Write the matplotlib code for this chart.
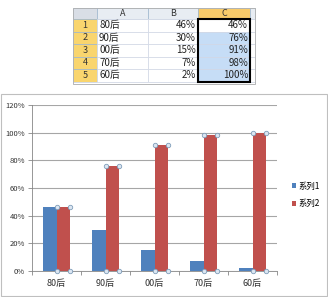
import matplotlib.pyplot as plt
import matplotlib.patches as patches
import numpy as np

plt.rcParams['font.family'] = ['Noto Sans CJK SC', 'DejaVu Sans']

categories = ['80后', '90后', '00后', '70后', '60后']
series1 = [0.46, 0.30, 0.15, 0.07, 0.02]
series2 = [0.46, 0.76, 0.91, 0.98, 1.00]
b_labels = ['46%', '30%', '15%', '7%', '2%']
c_labels = ['46%', '76%', '91%', '98%', '100%']
col_names = ['A', 'B', 'C']
names = ['系列1', '系列2']

blue = '#4F81BD'
red = '#C0504D'

fig = plt.figure(figsize=(3.28, 2.97), dpi=100)

# ---- spreadsheet snippet (pixel coordinates) ----
bg = fig.add_axes([0, 0, 1, 1])
bg.set_xlim(0, 328)
bg.set_ylim(297, 0)
bg.axis('off')

xe = [73, 97, 148, 198, 250, 255]
ye = [8, 19, 31.5, 44, 56.5, 69, 81.5, 84]

# headers
bg.add_patch(patches.Rectangle((xe[0], ye[0]), xe[1] - xe[0], ye[1] - ye[0], fc='#D9DEE6', ec='#9EB6CE', lw=0.5))
for j, name in enumerate(col_names):
    fc = '#F8CB6A' if name == 'C' else '#E8EDF3'
    bg.add_patch(patches.Rectangle((xe[j + 1], ye[0]), xe[j + 2] - xe[j + 1], ye[1] - ye[0], fc=fc, ec='#9EB6CE', lw=0.5))
    bg.text((xe[j + 1] + xe[j + 2]) / 2, (ye[0] + ye[1]) / 2 + 0.5, name, ha='center', va='center', fontsize=6.5, color='#333333')
bg.add_patch(patches.Rectangle((xe[4], ye[0]), xe[5] - xe[4], ye[1] - ye[0], fc='#E8EDF3', ec='#9EB6CE', lw=0.5))

for i in range(5):
    y0, y1 = ye[i + 1], ye[i + 2]
    yc = (y0 + y1) / 2
    bg.add_patch(patches.Rectangle((xe[0], y0), xe[1] - xe[0], y1 - y0, fc='#F9D56E', ec='#9EB6CE', lw=0.5))
    bg.text((xe[0] + xe[1]) / 2, yc, str(i + 1), ha='center', va='center', fontsize=6.5, color='#333333')
    for j in range(3):
        fc = '#C6DDF6' if (j == 2 and i > 0) else 'white'
        bg.add_patch(patches.Rectangle((xe[j + 1], y0), xe[j + 2] - xe[j + 1], y1 - y0, fc=fc, ec='#D0D7E5', lw=0.5))
    bg.add_patch(patches.Rectangle((xe[4], y0), xe[5] - xe[4], y1 - y0, fc='white', ec='#D0D7E5', lw=0.5))
    bg.text(xe[1] + 2, yc, categories[i], ha='left', va='center', fontsize=7, color='#222222')
    bg.text(xe[3] - 2, yc, b_labels[i], ha='right', va='center', fontsize=7, color='#222222')
    bg.text(xe[4] - 2, yc, c_labels[i], ha='right', va='center', fontsize=7, color='#222222')
bg.add_patch(patches.Rectangle((xe[0], ye[-2]), xe[5] - xe[0], ye[-1] - ye[-2], fc='white', ec='#D0D7E5', lw=0.5))
bg.add_patch(patches.Rectangle((xe[3], ye[1]), xe[4] - xe[3], ye[6] - ye[1], fc='none', ec='black', lw=1.5))
bg.add_patch(patches.Rectangle((xe[0], ye[0]), xe[5] - xe[0], ye[-1] - ye[0], fc='none', ec='#B0B0B0', lw=0.6))

# chart frame
bg.add_patch(patches.Rectangle((1, 94), 326, 202, fc='white', ec='#BFBFBF', lw=0.8))

# ---- chart ----
ax = fig.add_axes([32 / 328, 26 / 297, 245 / 328, 166 / 297])
x = np.arange(len(categories))
w = 0.285
b1 = ax.bar(x - w / 2, series1, w, color=blue, label=names[0], zorder=3)
b2 = ax.bar(x + w / 2, series2, w, color=red, label=names[1], zorder=3)

# selection handles on series 2
for xi, v in zip(x, series2):
    for xx in (xi, xi + w):
        ax.plot([xx, xx], [v, 0], ls='none', marker='o', ms=3.2, mfc='#DCE6F2', mec='#7F9DB9', mew=0.6, zorder=5, clip_on=False)

ax.set_ylim(0, 1.2)
ax.set_xlim(-0.5, len(categories) - 0.5)
ax.set_yticks(np.arange(0, 1.21, 0.2))
ax.set_yticklabels([f'{int(round(t * 100))}%' for t in np.arange(0, 1.21, 0.2)], fontsize=5.5, color='#333333')
ax.set_xticks(x)
ax.set_xticklabels(categories, fontsize=6.5, color='#333333')
ax.set_xticks(np.arange(-0.5, len(categories), 1), minor=True)
ax.tick_params(axis='x', which='major', length=0, pad=6)
ax.tick_params(axis='x', which='minor', length=3, color='#868686', width=0.6)
ax.tick_params(axis='y', length=3, color='#868686', width=0.6, pad=2)
ax.grid(axis='y', color='#A6A6A6', lw=0.8, zorder=0)
for s in ['top', 'right']:
    ax.spines[s].set_visible(False)
ax.spines['left'].set_color('#868686')
ax.spines['bottom'].set_color('#868686')
ax.spines['left'].set_linewidth(0.6)
ax.spines['bottom'].set_linewidth(0.6)

fig.legend(handles=[b1, b2], loc='center left', bbox_to_anchor=(284 / 328, 102 / 297),
           frameon=False, fontsize=6, handlelength=0.55, handleheight=0.55,
           handletextpad=0.25, labelspacing=1.0)

fig.savefig('out.png', dpi=100)
